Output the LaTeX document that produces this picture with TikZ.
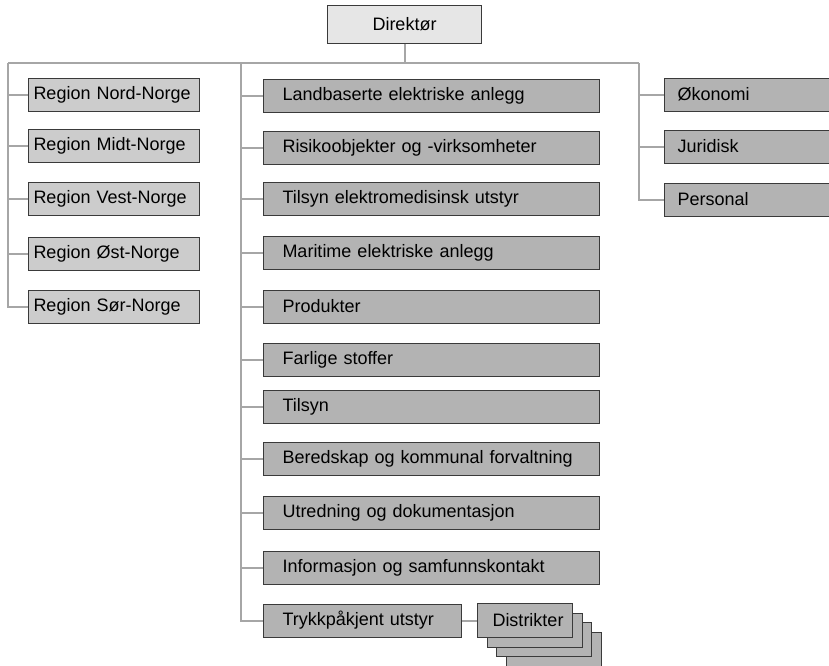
\documentclass[tikz,border=0pt]{standalone}
\usepackage{fontspec}
\setmainfont{Liberation Sans}
\hyphenpenalty=10000
\exhyphenpenalty=10000

\definecolor{boxline}{HTML}{3A3A3A}
\definecolor{linkgray}{HTML}{A6A6A6}
\definecolor{chieffill}{HTML}{E6E6E6}
\definecolor{regionfill}{HTML}{CCCCCC}
\definecolor{deptfill}{HTML}{B3B3B3}

\tikzset{
  unit/.style={draw=boxline, line width=1pt, fill=#1, anchor=west,
    minimum height=33pt, inner ysep=0pt, align=left,
    font=\fontsize{18}{21}\selectfont},
  region/.style={unit=regionfill, inner xsep=5pt, text width=161pt},
  dept/.style={unit=deptfill, inner xsep=19pt, text width=298pt},
  staff/.style={unit=deptfill, inner xsep=13pt, text width=154pt},
  district/.style={unit=deptfill, inner xsep=15pt, text width=65pt, minimum height=34pt},
  chief/.style={draw=boxline, line width=1pt, fill=chieffill,
    minimum width=154pt, minimum height=38pt,
    font=\fontsize{18}{21}\selectfont},
  link/.style={draw=linkgray, line width=2pt},
}

\begin{document}
\begin{tikzpicture}[x=1pt,y=-1pt]
  % Parameters
  \def\regx{28} % left edge of the regions
  \def\deptx{263} % left edge of the departments
  \def\staffx{664} % left edge of the staff units
  \def\distx{477} % left edge of the districts
  \def\disty{620.5} % centre line of the districts

  \useasboundingbox (0,0) rectangle (829,665);
  \clip (0,0) rectangle (829,665);

  % Top
  \node[chief] (chief) at (404.5,24) {Direktør};
  \coordinate (busL) at (8,63);
  \coordinate (busM) at (241,63);
  \coordinate (busR) at (639,63);

  % Regions
  \node[region] (reg1) at (\regx,94.5) {Region Nord-Norge};
  \node[region] (reg2) at (\regx,145.5) {Region Midt-Norge};
  \node[region] (reg3) at (\regx,198.5) {Region Vest-Norge};
  \node[region] (reg4) at (\regx,253.5) {Region Øst-Norge};
  \node[region] (reg5) at (\regx,306.5) {Region Sør-Norge};

  % Departments
  \node[dept] (land) at (\deptx,95.5) {Landbaserte elektriske anlegg};
  \node[dept] (risk) at (\deptx,147.5) {Risikoobjekter og -virksomheter};
  \node[dept] (medtech) at (\deptx,198.5) {Tilsyn elektromedisinsk utstyr};
  \node[dept] (marit) at (\deptx,252.5) {Maritime elektriske anlegg};
  \node[dept] (prod) at (\deptx,306.5) {Produkter};
  \node[dept] (hazard) at (\deptx,360) {Farlige stoffer};
  \node[dept] (insp) at (\deptx,406.5) {Tilsyn};
  \node[dept] (prep) at (\deptx,459) {Beredskap og kommunal forvaltning};
  \node[dept] (study) at (\deptx,512.5) {Utredning og dokumentasjon};
  \node[dept] (info) at (\deptx,567.5) {Informasjon og samfunnskontakt};
  \node[dept, text width=160pt] (press) at (\deptx,\disty) {Trykkpåkjent utstyr};

  % Districts, stacked
  \foreach \k in {3,2,1}
    \node[district] (dist\k) at (\distx+9.5*\k,\disty+9.5*\k) {};
  \node[district] (dist) at (\distx,\disty) {Distrikter};

  % Staff
  \node[staff] (econ) at (\staffx,94.5) {Økonomi};
  \node[staff] (legal) at (\staffx,146.5) {Juridisk};
  \node[staff] (pers) at (\staffx,199.5) {Personal};

  % Connectors
  \draw[link] (busL) -- (busR);
  \draw[link] (chief.south) -- (chief.south |- busM);
  \draw[link] (busL) |- (reg5);
  \foreach \n in {reg1,reg2,reg3,reg4}
    \draw[link] (\n.west) -- (\n.west -| busL);
  \draw[link] (busM) |- (press);
  \foreach \n in {land,risk,medtech,marit,prod,hazard,insp,prep,study,info}
    \draw[link] (\n.west) -- (\n.west -| busM);
  \draw[link] (busR) |- (pers);
  \foreach \n in {econ,legal}
    \draw[link] (\n.west) -- (\n.west -| busR);
  \draw[link] (press) -- (dist);
\end{tikzpicture}
\end{document}
